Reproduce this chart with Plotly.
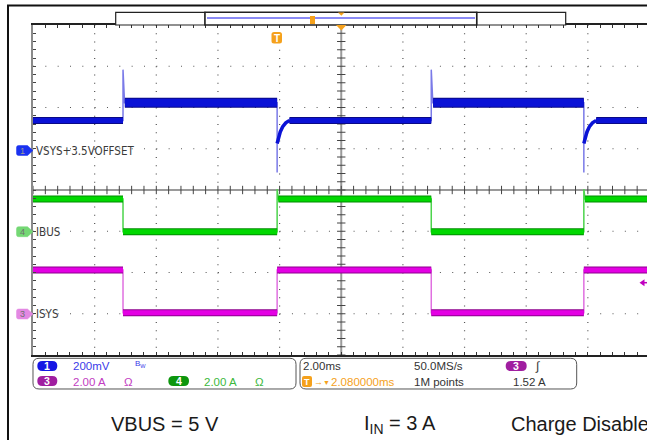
import numpy as np
import plotly.graph_objects as go

W, H = 647, 440

# ── Screen data (read off the capture) ───────────────────────────────────────
# time in ms relative to the trigger, 2 ms/div, horizontal position 2.08 ms
H_POS_MS = 2.08
MS_PER_DIV = 2.0
EDGES_MS = [-5.0, 0.0, 5.0, 9.95]          # load-step edges (100 Hz)

# CH1 VSYS (V), 200 mV/div, 3.5 V offset
VSYS_LOW = 3.645
VSYS_HIGH = 3.732
VSYS_SPIKE = 3.892
VSYS_DIP_TIP = 3.393
VSYS_REC_MS = [0.0, 0.04, 0.10, 0.18, 0.28, 0.40]
VSYS_REC_V = [3.534, 3.562, 3.590, 3.615, 3.634, 3.645]

# CH4 IBUS (A), 2 A/div
IBUS_HIGH = 1.585
IBUS_LOW = 0.0
IBUS_SPIKE = 2.06

# CH3 ISYS (A), 2 A/div, trigger level 1.52 A
ISYS_HIGH = 2.13
ISYS_LOW = 0.06

# channel reference markers (screen px) and scales
CH1_MARK, CH1_SCALE, CH1_REF = 150.5, 0.2, 3.5
CH4_MARK, CH4_SCALE = 231.7, 2.0
CH3_MARK, CH3_SCALE = 314.0, 2.0
TRIG_MARK = 282.7

# ── Screen geometry ──────────────────────────────────────────────────────────
X0, X1 = 33, 647
Y_TOP, Y_BOT = 25, 355
DIVX_PX, DIVY_PX = 61.65, 41.25
T_LEFT = H_POS_MS - 5 * MS_PER_DIV
T_RIGHT = T_LEFT + (X1 - X0) / DIVX_PX * MS_PER_DIV

C_BLUE, C_BLUE_D, C_BLUE_E = "#0a12d6", "#0a0a86", "#7a7ae8"
C_GRN, C_GRN_D, C_GRN_E = "#00d800", "#008c00", "#4cd44c"
C_MAG, C_MAG_D, C_MAG_E = "#e400e4", "#8e008e", "#e070e0"
C_ORANGE = "#f5a11c"
FONT = "Liberation Sans, Arial, sans-serif"
NARROW = "Liberation Sans Narrow, DejaVu Sans Condensed, Liberation Sans, sans-serif"


def px(x):
    return x / W


def py(y):
    return 1 - y / H


def ppath(*tokens):
    out = []
    for t in tokens:
        out.append(t if isinstance(t, str) else f"{px(t[0]):.5f},{py(t[1]):.5f}")
    return " ".join(out)


def rrect(x0, y0, x1, y1, r):
    return ppath("M", (x0 + r, y0), "L", (x1 - r, y0), "Q", (x1, y0), (x1, y0 + r),
                 "L", (x1, y1 - r), "Q", (x1, y1), (x1 - r, y1), "L", (x0 + r, y1),
                 "Q", (x0, y1), (x0, y1 - r), "L", (x0, y0 + r), "Q", (x0, y0), (x0 + r, y0), "Z")


def ch_range(mark, per_div, ref=0.0):
    return [ref - (Y_BOT - mark) / DIVY_PX * per_div,
            ref + (mark - Y_TOP) / DIVY_PX * per_div]


def segments(first_high):
    bounds = [T_LEFT] + EDGES_MS + [T_RIGHT + 0.5]
    segs = []
    for i in range(len(bounds) - 1):
        high = first_high if i % 2 == 0 else not first_high
        segs.append((bounds[i], bounds[i + 1], high, i > 0))
    return segs


def band_xy(segs, low, high, which, lead_hi=0.0, lead_lo=0.0):
    xs, ys = [], []
    for a, b, hi, after_edge in segs:
        if hi != which:
            continue
        if after_edge:
            a += lead_hi if hi else lead_lo
        lvl = high if hi else low
        xs += [a, b, None]
        ys += [lvl, lvl, None]
    return xs, ys


fig = go.Figure()


def add_band(xs, ys, yref, width, core, dark):
    fig.add_trace(go.Scatter(x=xs, y=ys, yaxis=yref, mode="lines",
                             line=dict(color=dark, width=width + 2), hoverinfo="skip"))
    fig.add_trace(go.Scatter(x=xs, y=ys, yaxis=yref, mode="lines",
                             line=dict(color=core, width=width), hoverinfo="skip"))


# ── CH1 VSYS ─────────────────────────────────────────────────────────────────
segs1 = segments(False)
ex, ey = [T_LEFT], [VSYS_LOW]
rx, ry = [], []
for k, te in enumerate(EDGES_MS):
    if k % 2 == 0:
        ex += [te, te, te + 0.05]
        ey += [VSYS_LOW, VSYS_SPIKE, VSYS_HIGH]
    else:
        ex += [te, te]
        ey += [VSYS_HIGH, VSYS_DIP_TIP]
        ex += [te + t for t in VSYS_REC_MS]
        ey += VSYS_REC_V
        rx += [te + t for t in VSYS_REC_MS] + [None]
        ry += VSYS_REC_V + [None]
ex.append(T_RIGHT + 0.5)
ey.append(VSYS_LOW)
fig.add_trace(go.Scatter(x=ex, y=ey, yaxis="y2", mode="lines",
                         line=dict(color=C_BLUE_E, width=1.5), hoverinfo="skip"))
fig.add_trace(go.Scatter(x=rx, y=ry, yaxis="y2", mode="lines",
                         line=dict(color=C_BLUE, width=3.5), hoverinfo="skip"))
add_band(*band_xy(segs1, VSYS_LOW, VSYS_HIGH, False, lead_lo=0.4), "y2", 5, C_BLUE, C_BLUE_D)
add_band(*band_xy(segs1, VSYS_LOW, VSYS_HIGH, True, lead_hi=0.06), "y2", 8, C_BLUE, C_BLUE_D)

# ── CH4 IBUS ─────────────────────────────────────────────────────────────────
segs4 = segments(True)
ex, ey = [T_LEFT], [IBUS_HIGH]
for k, te in enumerate(EDGES_MS):
    if k % 2 == 0:
        ex += [te, te]
        ey += [IBUS_HIGH, IBUS_LOW]
    else:
        ex += [te, te, te + 0.04]
        ey += [IBUS_LOW, IBUS_SPIKE, IBUS_HIGH]
ex.append(T_RIGHT + 0.5)
ey.append(IBUS_HIGH)
fig.add_trace(go.Scatter(x=ex, y=ey, yaxis="y3", mode="lines",
                         line=dict(color=C_GRN_E, width=1.5), hoverinfo="skip"))
for which in (True, False):
    add_band(*band_xy(segs4, IBUS_LOW, IBUS_HIGH, which, lead_hi=0.04), "y3", 5, C_GRN, C_GRN_D)

# ── CH3 ISYS ─────────────────────────────────────────────────────────────────
segs3 = segments(True)
ex, ey = [T_LEFT], [ISYS_HIGH]
for k, te in enumerate(EDGES_MS):
    lv = [ISYS_HIGH, ISYS_LOW] if k % 2 == 0 else [ISYS_LOW, ISYS_HIGH]
    ex += [te, te]
    ey += lv
ex.append(T_RIGHT + 0.5)
ey.append(ISYS_HIGH)
fig.add_trace(go.Scatter(x=ex, y=ey, yaxis="y4", mode="lines",
                         line=dict(color=C_MAG_E, width=1.5), hoverinfo="skip"))
for which in (True, False):
    add_band(*band_xy(segs3, ISYS_LOW, ISYS_HIGH, which), "y4", 5, C_MAG, C_MAG_D)

# ── Graticule centre-line ticks ──────────────────────────────────────────────
tick_t = np.arange(T_LEFT, T_RIGHT, MS_PER_DIV / 5)
fig.add_trace(go.Scatter(x=tick_t, y=[4] * len(tick_t), yaxis="y", mode="markers",
                         marker=dict(symbol="line-ns", size=6, line=dict(color="#444", width=1)),
                         hoverinfo="skip"))
tick_d = np.arange(0, 8.01, 0.2)
fig.add_trace(go.Scatter(x=[H_POS_MS] * len(tick_d), y=tick_d, yaxis="y", mode="markers",
                         marker=dict(symbol="line-ew", size=6, line=dict(color="#444", width=1)),
                         hoverinfo="skip"))

shapes = []
# dotted grid
for k in range(1, 10):
    t = T_LEFT + k * MS_PER_DIV
    shapes.append(dict(type="line", xref="x", yref="y", x0=t, x1=t, y0=8, y1=0,
                       line=dict(color="#555", width=1.2, dash="1px,7.25px"), layer="below"))
for j in range(1, 8):
    shapes.append(dict(type="line", xref="x", yref="y", x0=T_LEFT, x1=T_RIGHT, y0=j, y1=j,
                       line=dict(color="#555", width=1.2, dash="1px,11.33px"), layer="below"))
# centre lines
shapes.append(dict(type="line", xref="x", yref="y", x0=T_LEFT, x1=T_RIGHT, y0=4, y1=4,
                   line=dict(color="#9a9a9a", width=2), layer="below"))
shapes.append(dict(type="line", xref="x", yref="y", x0=H_POS_MS, x1=H_POS_MS, y0=0, y1=8,
                   line=dict(color="#9a9a9a", width=2), layer="below"))

# outer frame (figure border of the capture)
shapes.append(dict(type="path", xref="paper", yref="paper", line=dict(color="#111", width=2),
                   path=ppath("M", (8, 442), "L", (8, 5.5), "L", (650, 5.5))))

# record view bar
for x0, x1 in [(115.7, 205), (476.7, 565.7)]:
    shapes.append(dict(type="rect", xref="paper", yref="paper", x0=px(x0), x1=px(x1),
                       y0=py(25), y1=py(12.3), fillcolor="white", line=dict(color="#222", width=1.2)))
shapes.append(dict(type="rect", xref="paper", yref="paper", x0=px(205), x1=px(476.7),
                   y0=py(25), y1=py(12.3), fillcolor="white", line=dict(color="#222", width=1.5)))
shapes.append(dict(type="line", xref="paper", yref="paper", x0=px(207), x1=px(475),
                   y0=py(18), y1=py(18), line=dict(color="#8a8af5", width=2)))
shapes.append(dict(type="rect", xref="paper", yref="paper", x0=px(310), x1=px(315),
                   y0=py(24), y1=py(16), fillcolor=C_ORANGE, line=dict(width=0)))
# trigger position markers
shapes.append(dict(type="path", xref="paper", yref="paper", fillcolor=C_ORANGE, line=dict(width=0),
                   path=ppath("M", (338, 12.5), "L", (344.5, 12.5), "L", (341.3, 15.8), "Z")))
shapes.append(dict(type="path", xref="paper", yref="paper", fillcolor=C_ORANGE, line=dict(width=0),
                   path=ppath("M", (336, 25), "L", (346.5, 25), "L", (341.3, 30.5), "Z")))
# trigger "T" badge
shapes.append(dict(type="path", xref="paper", yref="paper", fillcolor=C_ORANGE, line=dict(width=0),
                   path=rrect(271.5, 32, 282, 43.5, 2.5)))

# channel markers on the left edge
for yc, fill in [(CH1_MARK, "#1a32f0"), (CH4_MARK, "#74d874"), (CH3_MARK, "#e388e3")]:
    shapes.append(dict(type="path", xref="paper", yref="paper", fillcolor=fill,
                       line=dict(color=fill, width=0.5),
                       path=ppath("M", (18.5, yc - 5), "L", (27.5, yc - 5), "L", (33, yc),
                                  "L", (27.5, yc + 5), "L", (18.5, yc + 5), "Q", (16.5, yc + 5),
                                  (16.5, yc + 3), "L", (16.5, yc - 3), "Q", (16.5, yc - 5),
                                  (18.5, yc - 5), "Z")))
# trigger level arrow (right edge)
shapes.append(dict(type="path", xref="paper", yref="paper", fillcolor="#c000c0", line=dict(width=0),
                   path=ppath("M", (639.5, TRIG_MARK), "L", (644.5, TRIG_MARK - 3.5),
                              "L", (644.5, TRIG_MARK + 3.5), "Z")))
shapes.append(dict(type="line", xref="paper", yref="paper", x0=px(644), x1=1,
                   y0=py(TRIG_MARK), y1=py(TRIG_MARK), line=dict(color="#c000c0", width=1.5)))

# readout panels
shapes.append(dict(type="path", xref="paper", yref="paper", fillcolor="white",
                   line=dict(color="#555", width=1), path=rrect(33, 358.3, 296, 389, 6)))
shapes.append(dict(type="path", xref="paper", yref="paper", fillcolor="white",
                   line=dict(color="#555", width=1), path=rrect(300, 358.3, 576.7, 389, 6)))
for x0, x1, y0, fill in [(37.3, 57.3, 361, "#1616e4"), (37.3, 57.3, 376, "#a01ea0"),
                         (168.3, 189, 376, "#0d960d"), (505.7, 526.7, 361, "#a01ea0")]:
    shapes.append(dict(type="path", xref="paper", yref="paper", fillcolor=fill,
                       line=dict(width=0), path=rrect(x0, y0, x1, y0 + 10, 5)))
shapes.append(dict(type="path", xref="paper", yref="paper", fillcolor=C_ORANGE,
                   line=dict(width=0), path=rrect(302, 376, 312, 387, 2)))

ann = []


def label(x, y, text, color="#333", size=11.5, family=FONT, xanchor="left"):
    ann.append(dict(x=px(x), y=py(y), xref="paper", yref="paper", text=text, showarrow=False,
                    xanchor=xanchor, yanchor="middle", font=dict(color=color, size=size, family=family)))


label(276.7, 38, "<b>T</b>", "white", 10, FONT, "center")
label(22, CH1_MARK, "1", "#9a9a9a", 9, FONT, "center")
label(22, CH4_MARK, "4", "#707070", 9, FONT, "center")
label(22, CH3_MARK, "3", "#707070", 9, FONT, "center")
label(34, CH1_MARK, "VSYS+3.5VOFFSET", "#3a3a3a", 11.5, NARROW)
label(34, CH4_MARK, "IBUS", "#3a3a3a", 11.5, NARROW)
label(34, CH3_MARK, "ISYS", "#3a3a3a", 11.5, NARROW)

label(47.3, 366, "<b>1</b>", "white", 10.5, FONT, "center")
label(47.3, 381.2, "<b>3</b>", "white", 10.5, FONT, "center")
label(178.6, 381.2, "<b>4</b>", "white", 10.5, FONT, "center")
label(516.2, 366, "<b>3</b>", "white", 10.5, FONT, "center")
label(307, 381.5, "<b>T</b>", "white", 9, FONT, "center")

label(71, 366, "200mV", "#3a3ae8")
label(133, 364, "B<sub>W</sub>", "#3a3ae8", 8)
label(71, 381.5, "2.00 A", "#c23cc2")
label(122, 381.5, "Ω", "#c23cc2")
label(202, 381.5, "2.00 A", "#3cb83c")
label(252.5, 381.5, "Ω", "#3cb83c")
label(300.5, 366, "2.00ms")
label(411.5, 366, "50.0MS/s")
label(533, 365.5, "∫", "#333", 12)
label(311.5, 381.5, "→", C_ORANGE, 9)
label(320.5, 382, "▼", C_ORANGE, 7)
label(329, 381.5, "2.080000ms", C_ORANGE)
label(411.5, 381.5, "1M points")
label(510.5, 381.5, "1.52 A")

label(109, 424, "VBUS = 5 V", "#1a1a1a", 20)
label(361.5, 424, "I<sub>IN</sub> = 3 A", "#1a1a1a", 20)
label(508.5, 424, "Charge Disabled", "#1a1a1a", 20)

y_dom = [py(Y_BOT), py(Y_TOP)]
hidden = dict(overlaying="y", anchor="x", visible=False, fixedrange=True)
fig.update_layout(
    width=W, height=H,
    margin=dict(l=0, r=0, t=0, b=0),
    paper_bgcolor="white", plot_bgcolor="white",
    showlegend=False,
    shapes=shapes, annotations=ann,
    xaxis=dict(domain=[px(X0), 1], range=[T_LEFT, T_RIGHT], showgrid=False, zeroline=False,
               showticklabels=False, ticks="inside", tick0=H_POS_MS, dtick=MS_PER_DIV / 5,
               ticklen=3, tickwidth=1, tickcolor="#333", showline=True, linecolor="#222",
               linewidth=2, mirror="ticks", fixedrange=True),
    yaxis=dict(domain=y_dom, range=[0, 8], showgrid=False, zeroline=False, showticklabels=False,
               ticks="inside", tick0=0, dtick=0.2, ticklen=3, tickwidth=1, tickcolor="#444",
               showline=True, linecolor="#8a8a8a", linewidth=2, fixedrange=True),
    yaxis2=dict(range=ch_range(CH1_MARK, CH1_SCALE, CH1_REF), **hidden),
    yaxis3=dict(range=ch_range(CH4_MARK, CH4_SCALE), **hidden),
    yaxis4=dict(range=ch_range(CH3_MARK, CH3_SCALE), **hidden),
)

# the page's default 8px body margin would shift the whole screen
fig.write_html("out.html", config={"displayModeBar": False},
               post_script="document.body.style.margin='0px';")
